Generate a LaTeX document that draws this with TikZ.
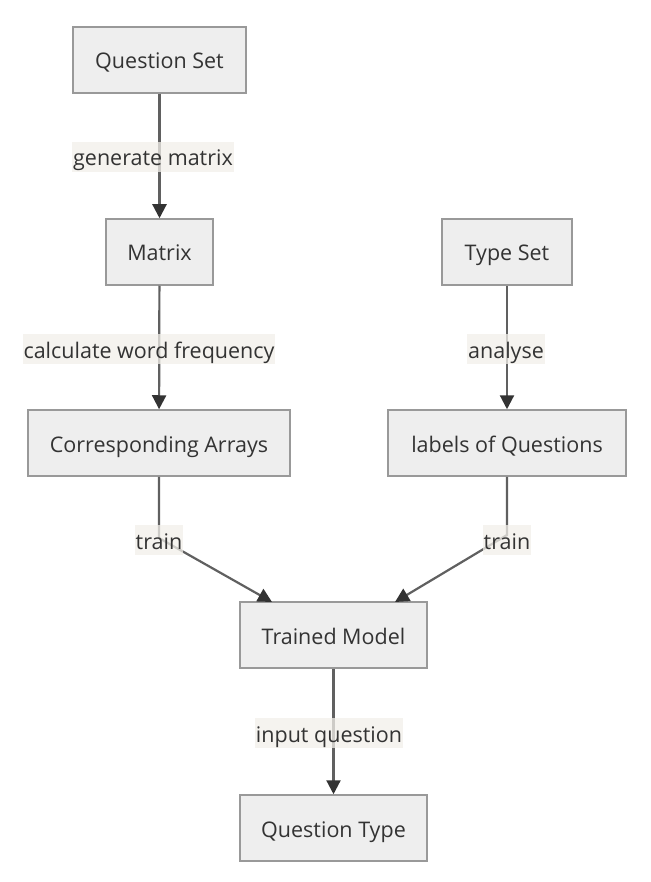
\documentclass[tikz,border=0pt]{standalone}
\usepackage{fontspec}
\setmainfont{Open Sans}
\usetikzlibrary{arrows.meta}
\definecolor{boxfill}{HTML}{EEEEEE}
\definecolor{boxline}{HTML}{999999}
\definecolor{edgecol}{HTML}{606060}
\definecolor{tipcol}{HTML}{333333}
\definecolor{lblfill}{HTML}{F2F0EA}
\definecolor{txtcol}{HTML}{333333}
\begin{document}
\begin{tikzpicture}[x=1pt,y=-1pt,
  box/.style={draw=boxline,fill=boxfill,line width=1.5pt,inner sep=0pt,
    text=txtcol,font=\fontsize{21.5}{24}\selectfont,minimum height=66pt,
    text height=18pt,text depth=0pt},
  edge/.style={draw=edgecol,line width=2.2pt,-{Triangle[length=14pt,width=14pt,color=tipcol]}},
  lbl/.style={fill=lblfill,fill opacity=0.75,text opacity=1,text=txtcol,
    font=\fontsize{21.5}{24}\selectfont,inner sep=1pt,minimum height=30pt,
    text height=18pt,text depth=0pt}]
\useasboundingbox (0,0) rectangle (650,882);
\fill[white] (0,0) rectangle (650,882);
\node[box,minimum width=173pt] (qs) at (159.5,60) {Question Set};
\node[box,minimum width=107pt] (mx) at (159.5,252) {Matrix};
\node[box,minimum width=130pt] (ts) at (507,252) {Type Set};
\node[box,minimum width=262pt] (ca) at (159,443) {Corresponding Arrays};
\node[box,minimum width=238pt] (lq) at (507,443) {labels of Questions};
\node[box,minimum width=187pt] (tm) at (333.5,635) {Trained Model};
\node[box,minimum width=187pt] (qt) at (333.5,828) {Question Type};
\coordinate (c1) at (159,538);
\coordinate (c2) at (507,535);
\coordinate (t1) at (272,602);
\coordinate (t2) at (395,602);
\draw[edge] (qs) -- (mx);
\draw[edge] (mx) -- (ca);
\draw[edge] (ts) -- (lq);
\draw[edge] (ca.south) -- (c1) -- (t1);
\draw[edge] (lq.south) -- (c2) -- (t2);
\draw[edge] (tm) -- (qt);
\node[lbl] (l1) at (153,157) {generate matrix};
\node[lbl] (l2) at (149,349) {calculate word frequency};
\node[lbl] (l3) at (506,349) {analyse};
\node[lbl] (l4) at (159,540) {train};
\node[lbl] (l5) at (507,540) {train};
\node[lbl] (l6) at (329,733) {input question};
\end{tikzpicture}
\end{document}
